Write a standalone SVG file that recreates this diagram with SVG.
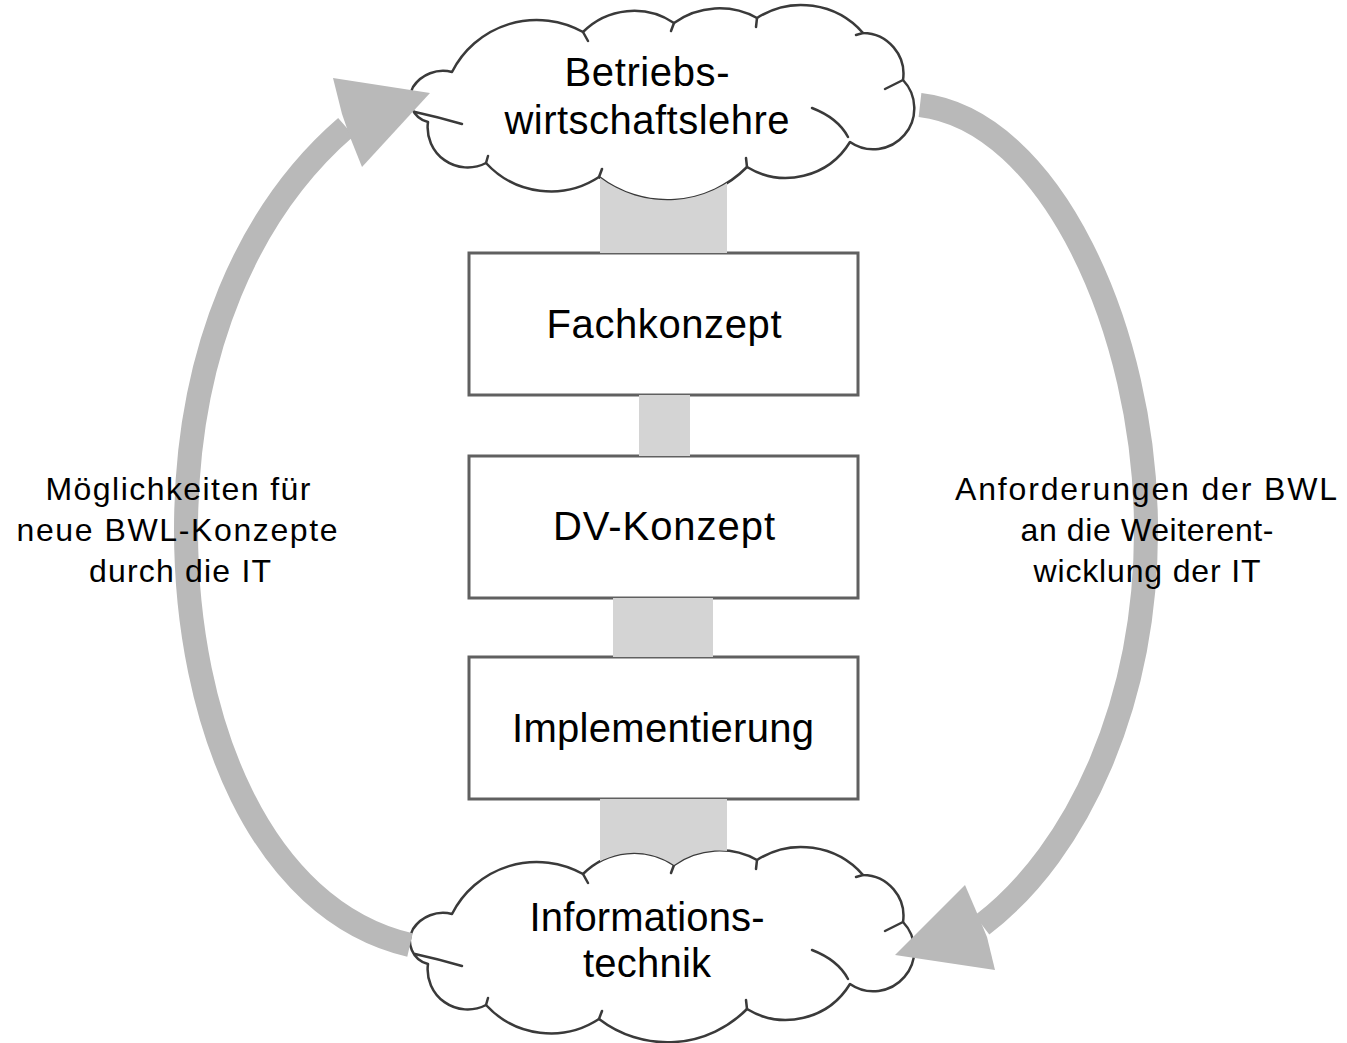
<svg xmlns="http://www.w3.org/2000/svg" xmlns:xlink="http://www.w3.org/1999/xlink" width="1347" height="1043" viewBox="0 0 1347 1043">
<style>
.cloud{fill:#fff;stroke:#3a3a3a;stroke-width:2.5;stroke-linejoin:round}
.inner{fill:none;stroke:#3a3a3a;stroke-width:2.5;stroke-linecap:round}
.box{fill:#fff;stroke:#606060;stroke-width:3}
.big{font-family:"Liberation Sans",Arial,sans-serif;font-size:40px;fill:#000;text-anchor:middle}
.lbl{font-family:"Liberation Sans",Arial,sans-serif;font-size:32px;fill:#000;text-anchor:middle}
.bar{fill:#d4d4d4}
.arc{fill:none;stroke:#b9b9b9;stroke-width:24}
.head{fill:#b9b9b9}
</style>
<defs>
<path id="cloudShape" d="M413,87 A36,36 0 0 1 452,72 A95,95 0 0 1 583,32 A72,72 0 0 1 674,23 A78,78 0 0 1 757,18 A82,82 0 0 1 863,33 A41,41 0 0 1 903,80 A41,41 0 0 1 850,142 A75,75 0 0 1 747,167 A112,112 0 0 1 599,177 A88,88 0 0 1 486,163 A40,40 0 0 1 428,122 A24,24 0 0 1 413,87 Z"/>
<g id="cloudInner">
<path d="M415,112 Q438,117 462,124"/>
<path d="M903,80 L885,89"/>
<path d="M812,108 Q838,118 848,137"/>
<path d="M583,32 l5,9"/>
<path d="M674,23 l-3,8"/>
<path d="M757,18 l-1,9"/>
<path d="M863,33 l-7,2"/>
<path d="M747,167 l-1,-9"/>
<path d="M599,177 l3,-8"/>
<path d="M486,163 l2,-7"/>
</g>
<mask id="behindNodes" maskUnits="userSpaceOnUse" x="0" y="0" width="1347" height="1043">
<rect x="0" y="0" width="1347" height="1043" fill="#fff"/>
<use xlink:href="#cloudShape" fill="#000"/>
<use xlink:href="#cloudShape" y="842" fill="#000"/>
<rect x="469" y="253" width="389" height="142" fill="#000"/>
<rect x="469" y="456" width="389" height="142" fill="#000"/>
<rect x="469" y="657" width="389" height="142" fill="#000"/>
</mask>
</defs>
<rect x="0" y="0" width="1347" height="1043" fill="#fff"/>

<g id="node-bwl">
<use xlink:href="#cloudShape" class="cloud"/>
<use xlink:href="#cloudInner" class="inner"/>
<text class="big" x="647" y="86" textLength="165" lengthAdjust="spacing">Betriebs-</text>
<text class="big" x="647" y="134" textLength="285" lengthAdjust="spacing">wirtschaftslehre</text>
</g>

<g id="node-it">
<use xlink:href="#cloudShape" y="842" class="cloud"/>
<use xlink:href="#cloudInner" y="842" class="inner"/>
<text class="big" x="647" y="931" textLength="235" lengthAdjust="spacing">Informations-</text>
<text class="big" x="647" y="977" textLength="128" lengthAdjust="spacing">technik</text>
</g>

<g id="node-fachkonzept">
<rect class="box" x="469" y="253" width="389" height="142"/>
<text class="big" x="664" y="338" textLength="235" lengthAdjust="spacing">Fachkonzept</text>
</g>

<g id="node-dvkonzept">
<rect class="box" x="469" y="456" width="389" height="142"/>
<text class="big" x="664" y="540" textLength="222" lengthAdjust="spacing">DV-Konzept</text>
</g>

<g id="node-implementierung">
<rect class="box" x="469" y="657" width="389" height="142"/>
<text class="big" x="663" y="742" textLength="302" lengthAdjust="spacing">Implementierung</text>
</g>

<g id="connectors">
<g mask="url(#behindNodes)">
<rect class="bar" x="600" y="160" width="127" height="100"/>
<rect class="bar" x="639" y="390" width="51" height="70"/>
<rect class="bar" x="613" y="593" width="100" height="70"/>
<rect class="bar" x="600" y="795" width="127" height="90"/>
</g>
<path class="arc" d="M410,945 C260,910 186,720 186,530 C186,350 250,210 346,127"/>
<polygon class="head" points="430,93 333,78 342,114 350,137 362,167"/>
<path class="arc" d="M920,105 C1050,120 1146,330 1146,530 C1146,700 1080,850 982,925"/>
<polygon class="head" points="895,955 965,885 977,913 987,937 995,970"/>
</g>

<g id="label-left">
<text class="lbl" x="178" y="500" textLength="265" lengthAdjust="spacing">Möglichkeiten für</text>
<text class="lbl" x="177" y="541" textLength="321" lengthAdjust="spacing">neue BWL-Konzepte</text>
<text class="lbl" x="180" y="582" textLength="182" lengthAdjust="spacing">durch die IT</text>
</g>

<g id="label-right">
<text class="lbl" x="1146" y="500" textLength="382" lengthAdjust="spacing">Anforderungen der BWL</text>
<text class="lbl" x="1147" y="541" textLength="253" lengthAdjust="spacing">an die Weiterent-</text>
<text class="lbl" x="1147" y="582" textLength="227" lengthAdjust="spacing">wicklung der IT</text>
</g>
</svg>
